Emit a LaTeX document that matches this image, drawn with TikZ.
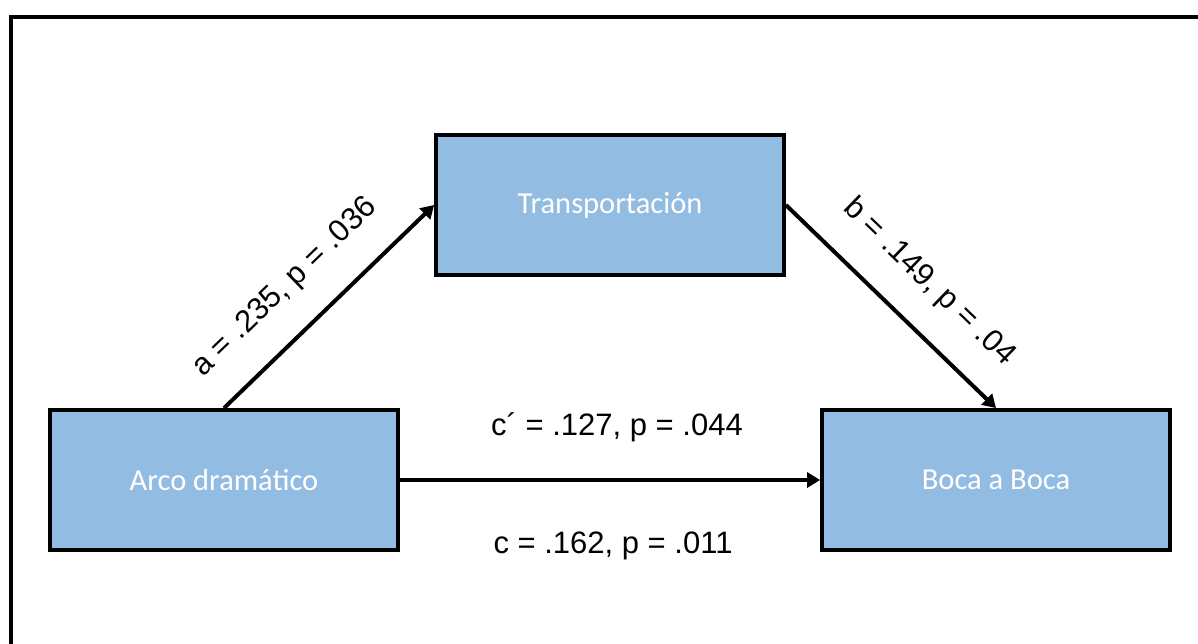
\documentclass[tikz,border=0pt]{standalone}
\usepackage{fontspec}
\setmainfont{Liberation Sans}
\newfontfamily\boxfont{Carlito}
\usetikzlibrary{arrows.meta}
\definecolor{boxblue}{RGB}{147,188,227}
\begin{document}
\begin{tikzpicture}[x=1pt,y=-1pt,
  varbox/.style={draw=black, line width=4.3pt, fill=boxblue,
    minimum width=347.5pt, minimum height=139.5pt, inner sep=0pt,
    text=white, font=\boxfont\fontsize{30.5}{36}\selectfont},
  path/.style={line width=4pt, -{Triangle[length=13pt,width=15pt]}},
  coef/.style={font=\fontsize{31}{37}\selectfont, inner sep=0pt, anchor=base}]
  \useasboundingbox (0,0) rectangle (1198,644);
  \fill[white] (0,0) rectangle (1198,644);
  % outer frame, running off the right and bottom edges
  \begin{scope}
    \clip (0,0) rectangle (1198,644);
    \draw[line width=3.7pt] (11,17) rectangle (1220,670);
  \end{scope}
  % variables
  \node[varbox] (arco)   at (224,480) {Arco dramático};
  \node[varbox] (transp) at (610,205) {Transportación};
  \node[varbox] (boca)   at (996,480) {Boca a Boca};
  % paths
  \draw[path] (arco.north) -- (transp.west);
  \draw[path] (transp.east) -- (boca.north);
  \draw[path] (arco.east) -- (boca.west);
  % coefficients
  \node[coef, rotate=44]  (ca) at (290.6,293) {a = .235, p = .036};
  \node[coef, rotate=-44] (cb) at (923.4,288) {b = .149, p = .04};
  \node[coef] (cc1) at (617,435) {c´ = .127, p = .044};
  \node[coef] (cc)  at (613,553) {c = .162, p = .011};
\end{tikzpicture}
\end{document}
